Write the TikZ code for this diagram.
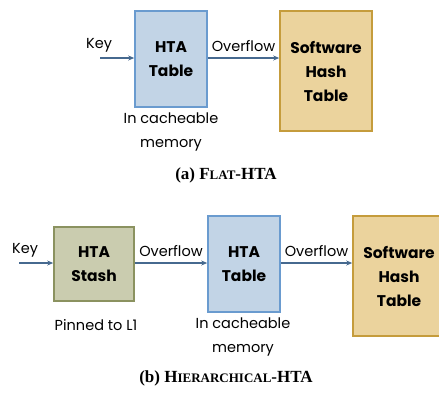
\documentclass[tikz,border=0pt]{standalone}
\usepackage{fontspec}
\setsansfont{Poppins}
\newfontfamily\capfont{Liberation Serif}
\usetikzlibrary{arrows.meta}
\definecolor{bluefill}{HTML}{C2D4E6}
\definecolor{blueline}{HTML}{6A9BCF}
\definecolor{goldfill}{HTML}{EBD39D}
\definecolor{goldline}{HTML}{C59C3C}
\definecolor{olivefill}{HTML}{CACCAF}
\definecolor{oliveline}{HTML}{8B9260}
\definecolor{arrowcol}{HTML}{46698F}
\tikzset{
  box/.style={draw, line width=1.6pt, inner sep=0pt, align=center,
    font=\sffamily\bfseries\fontsize{15.5}{24}\selectfont},
  lbl/.style={font=\sffamily\fontsize{14.5}{24}\selectfont, align=center, inner sep=0pt},
  captext/.style={font=\capfont\bfseries\fontsize{17}{18}\selectfont, inner sep=0pt},
  arr/.style={draw=arrowcol, line width=1.3pt, -{Stealth[length=6pt,width=5pt]}}
}
\begin{document}
\begin{tikzpicture}[x=1pt,y=-1pt]
\useasboundingbox (0,0) rectangle (439,392);
% (a)
\node[box, fill=bluefill, draw=blueline, minimum width=72pt, minimum height=96pt] (hta) at (171,59) {HTA\\Table};
\node[box, fill=goldfill, draw=goldline, minimum width=92pt, minimum height=120pt] (sw) at (326,71) {Software\\Hash\\Table};
\coordinate (keyA) at (100,58);
\node[lbl] (keylA) at (99,45) {Key};
\draw[arr] (keyA) -- (keyA -| hta.west);
\draw[arr] (hta.east |- keyA) -- (sw.west |- keyA) node[lbl, midway, above=6pt] (ovA) {Overflow};
\node[lbl] (memA) at (171,132) {In cacheable\\memory};
\node[captext] (capA) at (226,175) {(a) F{\fontsize{13}{14}\selectfont LAT}-HTA};
% (b)
\node[box, fill=olivefill, draw=oliveline, minimum width=80pt, minimum height=74pt] (stash) at (94,264) {HTA\\Stash};
\node[box, fill=bluefill, draw=blueline, minimum width=72pt, minimum height=96pt] (htaB) at (244,264) {HTA\\Table};
\node[box, fill=goldfill, draw=goldline, minimum width=92pt, minimum height=120pt] (swB) at (399,276) {Software\\Hash\\Table};
\coordinate (keyB) at (19,263);
\node[lbl] (keylB) at (25,250) {Key};
\draw[arr] (keyB) -- (keyB -| stash.west);
\draw[arr] (stash.east |- keyB) -- (htaB.west |- keyB) node[lbl, midway, above=6pt] (ovB1) {Overflow};
\draw[arr] (htaB.east |- keyB) -- (swB.west |- keyB) node[lbl, midway, above=6pt] (ovB2) {Overflow};
\node[lbl] (pin) at (96,325) {Pinned to L1};
\node[lbl] (memB) at (243,337) {In cacheable\\memory};
\node[captext] (capB) at (226,378) {(b) H{\fontsize{13}{14}\selectfont IERARCHICAL}-HTA};
\end{tikzpicture}
\end{document}
